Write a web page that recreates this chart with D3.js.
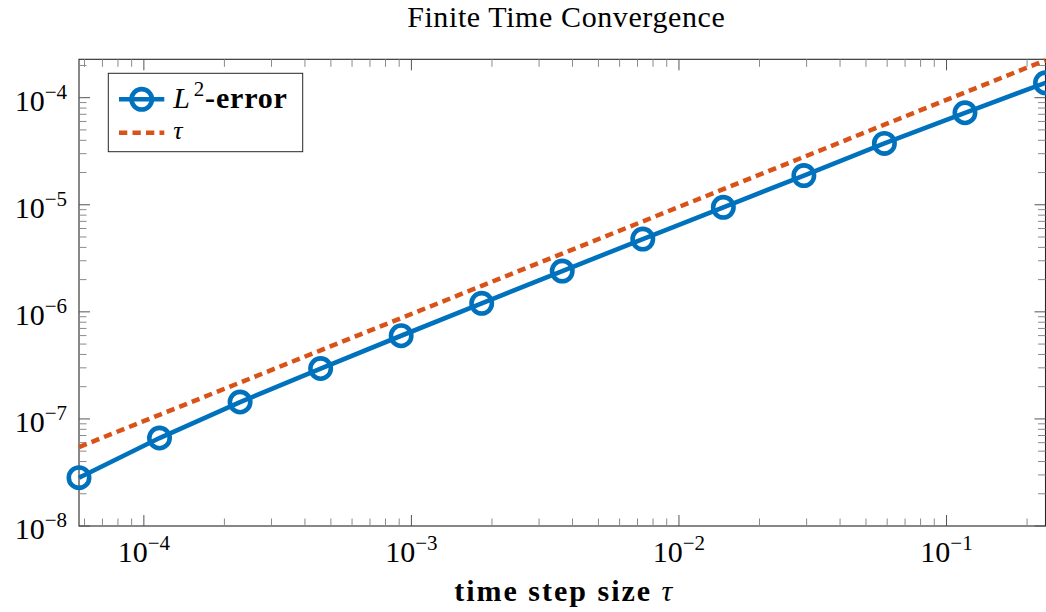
<!DOCTYPE html>
<html>
<head>
<meta charset="utf-8">
<script src="https://cdn.jsdelivr.net/npm/d3@7"></script>
<style>
  html, body { margin: 0; padding: 0; background: #fff; }
  svg { display: block; }
  text { font-family: "Liberation Serif", "Times New Roman", serif; fill: #000; }
</style>
</head>
<body>
<svg id="chart" width="1046" height="612"></svg>
<script>
// ---- data ----
const tauSteps = [5.722e-5, 1.144e-4, 2.289e-4, 4.578e-4, 9.155e-4, 1.831e-3, 3.662e-3, 7.324e-3, 1.465e-2, 2.930e-2, 5.859e-2, 0.1172, 0.2344];
const l2Error  = [2.825e-8, 6.63e-8, 1.438e-7, 2.955e-7, 5.98e-7, 1.201e-6, 2.404e-6, 4.782e-6, 9.456e-6, 1.874e-5, 3.743e-5, 7.228e-5, 1.377e-4];
const tauRef   = [5.46e-8, 1.093e-7, 2.186e-7, 4.372e-7, 8.743e-7, 1.749e-6, 3.497e-6, 6.995e-6, 1.399e-5, 2.798e-5, 5.596e-5, 1.119e-4, 2.238e-4];
const xMajorTicks = [1e-4, 1e-3, 1e-2, 1e-1];
const xTickExp = ["−4", "−3", "−2", "−1"];
const yMajorTicks = [1e-8, 1e-7, 1e-6, 1e-5, 1e-4];
const yTickExp = ["−8", "−7", "−6", "−5", "−4"];
const xDomain = [5.722e-5, 0.2344];
const yDomain = [1e-8, 2.283e-4];
const titleText = "Finite Time Convergence";
const xLabelText = "time step size ";
const seriesNames = ["-error", "τ"];

// ---- layout ----
const L = 79, R = 1045.5, T = 59.3, B = 526;
const blue = "#0072BD", red = "#D95319", axisCol = "#262626";
const svg = d3.select("#chart");
const x = d3.scaleLog().domain(xDomain).range([L, R]);
const y = d3.scaleLog().domain(yDomain).range([B, T]);

const xMinor = x.ticks().filter(v => !xMajorTicks.some(m => Math.abs(m - v) / m < 1e-6));
const yMinor = y.ticks().filter(v => !yMajorTicks.some(m => Math.abs(m - v) / m < 1e-6));
const maj = 11, mnr = 7.5;

const g = svg.append("g");
g.append("rect").attr("x", L).attr("y", T).attr("width", R - L).attr("height", B - T)
  .attr("fill", "none").attr("stroke", axisCol).attr("stroke-width", 1.1);

function vt(vals, len, col, w) {
  vals.forEach(v => {
    const px = x(v);
    g.append("line").attr("x1", px).attr("x2", px).attr("y1", B).attr("y2", B - len).attr("stroke", col).attr("stroke-width", w);
    g.append("line").attr("x1", px).attr("x2", px).attr("y1", T).attr("y2", T + len).attr("stroke", col).attr("stroke-width", w);
  });
}
function ht(vals, len, col, w) {
  vals.forEach(v => {
    const py = y(v);
    g.append("line").attr("y1", py).attr("y2", py).attr("x1", L).attr("x2", L + len).attr("stroke", col).attr("stroke-width", w);
    g.append("line").attr("y1", py).attr("y2", py).attr("x1", R).attr("x2", R - len).attr("stroke", col).attr("stroke-width", w);
  });
}
vt(xMinor, mnr, "#8a8a8a", 1);
ht(yMinor, mnr, "#8a8a8a", 1);
vt(xMajorTicks, maj, "#555", 1);
ht(yMajorTicks, maj, "#555", 1);

// tick labels
xMajorTicks.forEach((v, i) => {
  const t = g.append("text").attr("x", x(v)).attr("y", 561.5).attr("text-anchor", "middle").attr("font-size", 30);
  t.append("tspan").text("10");
  t.append("tspan").attr("dy", -12).attr("font-size", 21).text(xTickExp[i]);
});
yMajorTicks.forEach((v, i) => {
  const t = g.append("text").attr("x", 67).attr("y", y(v) + 13).attr("text-anchor", "end").attr("font-size", 30);
  t.append("tspan").text("10");
  t.append("tspan").attr("dy", -12).attr("font-size", 21).text(yTickExp[i]);
});

// title & x label
svg.append("text").attr("x", (L + R) / 2 + 4).attr("y", 26.7).attr("text-anchor", "middle")
  .attr("font-size", 30).attr("letter-spacing", 0.6).text(titleText);
const xl = svg.append("text").attr("x", (L + R) / 2 + 2).attr("y", 601).attr("text-anchor", "middle")
  .attr("font-size", 30).attr("letter-spacing", 2);
xl.append("tspan").attr("font-weight", "bold").text(xLabelText);
xl.append("tspan").attr("font-style", "italic").text("τ");

// series
const pts = tauSteps.map((t, i) => ({ x: t, e: l2Error[i], r: tauRef[i] }));
const lineE = d3.line().x(d => x(d.x)).y(d => y(d.e));
const lineR = d3.line().x(d => x(d.x)).y(d => y(d.r));
svg.append("path").datum(pts).attr("d", lineR).attr("fill", "none").attr("stroke", red)
  .attr("stroke-width", 4.5).attr("stroke-dasharray", "8.3,5.2");
svg.append("path").datum(pts).attr("d", lineE).attr("fill", "none").attr("stroke", blue)
  .attr("stroke-width", 4.6);
svg.selectAll("circle.m").data(pts).enter().append("circle").attr("class", "m")
  .attr("cx", d => x(d.x)).attr("cy", d => y(d.e)).attr("r", 10.2)
  .attr("fill", "none").attr("stroke", blue).attr("stroke-width", 4.6);

// legend
const lg = svg.append("g");
lg.append("rect").attr("x", 108.3).attr("y", 73.3).attr("width", 194.4).attr("height", 78.4)
  .attr("fill", "#fff").attr("stroke", axisCol).attr("stroke-width", 1);
lg.append("line").attr("x1", 119).attr("x2", 164.3).attr("y1", 99.3).attr("y2", 99.3)
  .attr("stroke", blue).attr("stroke-width", 4.6);
lg.append("circle").attr("cx", 141.7).attr("cy", 99.3).attr("r", 10.2).attr("fill", "none")
  .attr("stroke", blue).attr("stroke-width", 4.6);
const t1 = lg.append("text").attr("x", 173.3).attr("y", 108).attr("font-size", 30).attr("letter-spacing", 0.8);
t1.append("tspan").attr("font-style", "italic").text("L");
t1.append("tspan").attr("dx", 3).attr("dy", -12).attr("font-size", 21).text("2");
t1.append("tspan").attr("dy", 12).attr("font-weight", "bold").text(seriesNames[0]);
lg.append("line").attr("x1", 119).attr("x2", 164.3).attr("y1", 132.7).attr("y2", 132.7)
  .attr("stroke", red).attr("stroke-width", 4.5).attr("stroke-dasharray", "8.3,5.2");
lg.append("text").attr("x", 173.3).attr("y", 139).attr("font-size", 26)
  .attr("font-style", "italic").text(seriesNames[1]);
</script>
</body>
</html>
